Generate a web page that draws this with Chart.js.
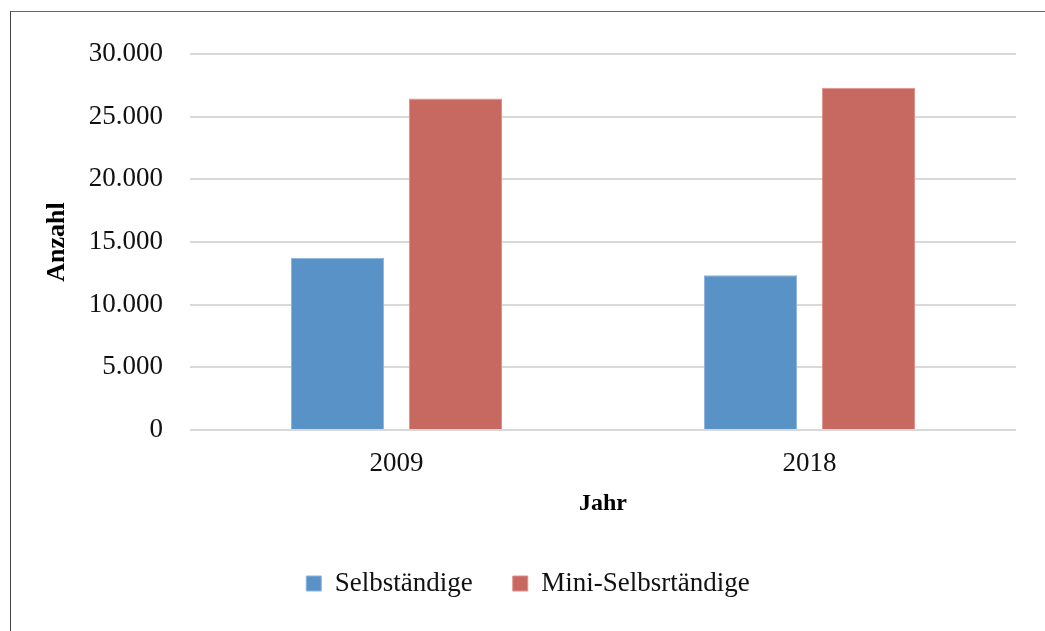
<!DOCTYPE html>
<html lang="de">
<head>
    <meta charset="UTF-8">
    <title>Selbständige und Mini-Selbständige</title>
    <script src="https://cdn.jsdelivr.net/npm/chart.js"></script>
    <style>
        body { margin: 0; background: #fff; }
        .wrap { position: relative; width: 1045px; height: 631px; }
        .rahmen {
            position: absolute; left: 10px; top: 11px; right: 0; bottom: 0;
            border-left: 1px solid #444; border-top: 1px solid #666;
        }
        canvas { position: absolute; left: 0; top: 0; }
    </style>
</head>
<body>
<div class="wrap">
    <div class="rahmen"></div>
    <canvas id="grafik" width="1045" height="631"></canvas>
</div>

<script>
    // Daten
    const jahre = ['2009', '2018'];
    const selbstaendige = [13750, 12350];
    const miniSelbstaendige = [26450, 27300];
    const yTicks = [0, 5000, 10000, 15000, 20000, 25000, 30000];

    const schrift = "'Liberation Serif', 'Times New Roman', serif";

    // Tausenderpunkt wie im Deutschen
    const formatZahl = v => String(v).replace(/\B(?=(\d{3})+(?!\d))/g, '.');

    // Legende etwas nach rechts schieben
    const legendeVersatz = {
        id: 'legendeVersatz',
        afterLayout(chart) {
            if (chart.legend) {
                chart.legend.left += 20;
                chart.legend.right += 20;
            }
        }
    };

    new Chart(document.getElementById('grafik'), {
        type: 'bar',
        data: {
            labels: jahre,
            datasets: [
                {
                    label: 'Selbständige',
                    data: selbstaendige,
                    backgroundColor: '#5992c7',
                    borderColor: '#8db3dc',
                    borderWidth: 1
                },
                {
                    label: 'Mini-Selbsrtändige',
                    data: miniSelbstaendige,
                    backgroundColor: '#c76861',
                    borderColor: '#e0908a',
                    borderWidth: 1
                }
            ]
        },
        options: {
            responsive: false,
            animation: false,
            layout: { padding: { left: 0, right: 29, top: 54, bottom: 24 } },
            datasets: { bar: { categoryPercentage: 0.571, barPercentage: 0.79 } },
            plugins: {
                tooltip: { enabled: false },
                legend: {
                    position: 'bottom',
                    labels: {
                        boxWidth: 15,
                        boxHeight: 15,
                        padding: 40,
                        color: '#111',
                        font: { family: schrift, size: 27 }
                    }
                }
            },
            scales: {
                x: {
                    grid: { display: false, drawTicks: false },
                    border: { display: false },
                    ticks: { color: '#111', padding: 18, font: { family: schrift, size: 27 } },
                    title: {
                        display: true,
                        text: 'Jahr',
                        color: '#000',
                        padding: { top: 0, bottom: 12 },
                        font: { family: schrift, size: 24, weight: 'bold' }
                    },
                    afterFit(axis) { axis.height = 100; }
                },
                y: {
                    min: 0,
                    max: 30000,
                    afterBuildTicks(axis) { axis.ticks = yTicks.map(v => ({ value: v })); },
                    grid: { color: '#d9d9d9', lineWidth: 2, drawTicks: false },
                    border: { display: false },
                    ticks: {
                        color: '#111',
                        padding: 27,
                        font: { family: schrift, size: 27 },
                        callback: v => formatZahl(v)
                    },
                    title: {
                        display: true,
                        text: 'Anzahl',
                        color: '#000',
                        padding: { top: 42, bottom: 0 },
                        font: { family: schrift, size: 26, weight: 'bold' }
                    },
                    afterFit(axis) { axis.width = 190; }
                }
            }
        },
        plugins: [legendeVersatz]
    });
</script>
</body>
</html>
